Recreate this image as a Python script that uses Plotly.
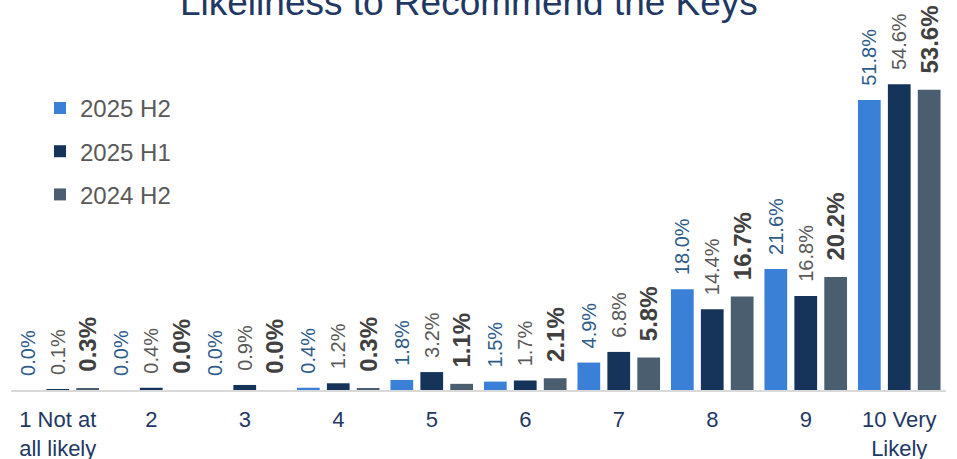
import plotly.graph_objects as go

categories = ["1 Not at<br>all likely", "2", "3", "4", "5", "6", "7", "8", "9", "10 Very<br>Likely"]
series_names = ["2025 H2", "2025 H1", "2024 H2"]
h2_2025 = [0.0, 0.0, 0.0, 0.4, 1.8, 1.5, 4.9, 18.0, 21.6, 51.8]
h1_2025 = [0.1, 0.4, 0.9, 1.2, 3.2, 1.7, 6.8, 14.4, 16.8, 54.6]
h2_2024 = [0.3, 0.0, 0.0, 0.3, 1.1, 2.1, 5.8, 16.7, 20.2, 53.6]

colors = ["#3A80D6", "#163459", "#4B5E70"]
FONT = "Arial, Liberation Sans, sans-serif"
label_fonts = [
    dict(family=FONT, size=20, color="#2E5C8A"),
    dict(family=FONT, size=20, color="#595959"),
    dict(family=FONT, size=24, color="#404040", weight="bold"),
]
NB = "\u00a0\u00a0"

fig = go.Figure()
for name, vals, col, lf in zip(series_names, [h2_2025, h1_2025, h2_2024], colors, label_fonts):
    fig.add_trace(go.Bar(
        x=categories, y=vals, name=name, legendgroup=name,
        marker=dict(color=col, line=dict(width=0)),
        text=[f"{NB}{v:.1f}%" for v in vals],
        textposition="outside", textangle=-90,
        textfont=lf, constraintext="none", cliponaxis=False,
        hoverinfo="x+y+name",
    ))

fig.update_layout(
    width=957, height=459,
    margin=dict(l=11, r=11, t=54, b=69),
    paper_bgcolor="white", plot_bgcolor="white",
    barmode="group", bargap=0.04, bargroupgap=0.24,
    font=dict(family=FONT),
    title=dict(
        text="Likeliness to Recommend the Keys",
        font=dict(size=37, color="#1F3864", family=FONT),
        x=0.49, xanchor="center", xref="container",
        y=1 - 15 / 459, yanchor="bottom", yref="container",
    ),
    legend=dict(
        x=0.031, y=0.905, xanchor="left", yanchor="top",
        font=dict(size=24, color="#595959"),
        tracegroupgap=9, traceorder="grouped",
        bgcolor="rgba(0,0,0,0)", itemclick=False,
    ),
    showlegend=True,
)
fig.update_xaxes(
    showline=True, linecolor="#D9D9D9", linewidth=2,
    showgrid=False, ticks="", ticklabelstandoff=9, automargin=False,
    tickfont=dict(size=22, color="#1F3864"),
)
fig.update_yaxes(range=[0, 60], visible=False, showgrid=False, zeroline=False)

fig.write_html(
    "out.html",
    config={"displayModeBar": False},
    post_script="document.body.style.margin='0';document.body.style.overflow='hidden';",
)
